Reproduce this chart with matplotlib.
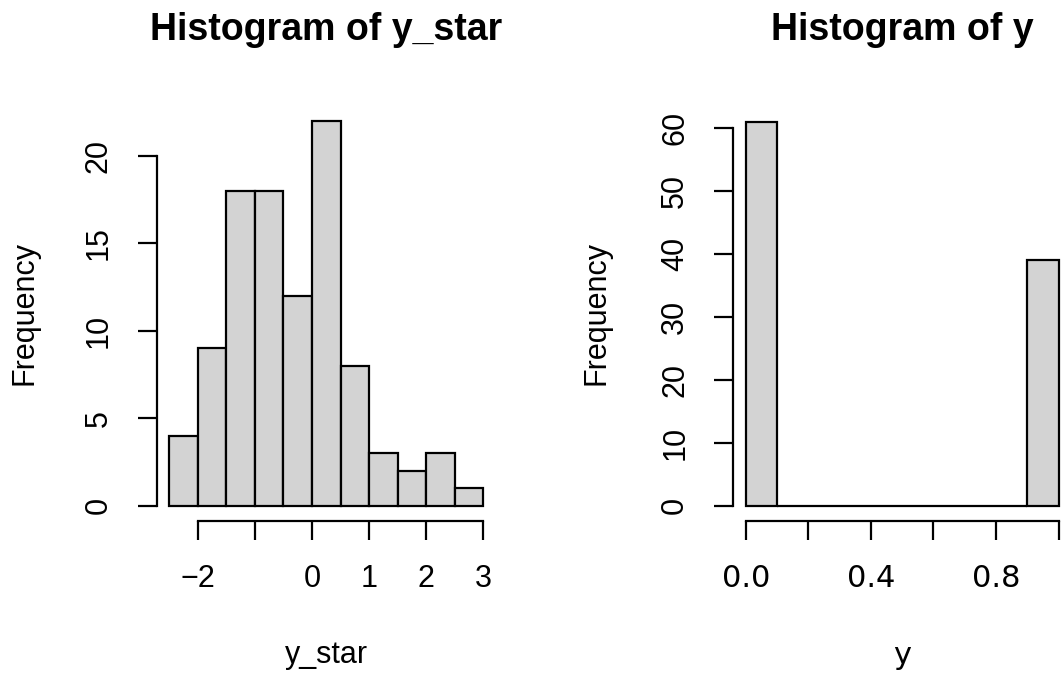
import matplotlib.pyplot as plt
import numpy as np

# left histogram: y_star
star_edges = [-2.5, -2.0, -1.5, -1.0, -0.5, 0.0, 0.5, 1.0, 1.5, 2.0, 2.5, 3.0]
star_counts = [4, 9, 18, 18, 12, 22, 8, 3, 2, 3, 1]
star_xticks = [-2, -1, 0, 1, 2, 3]
star_xlabels = ['\u22122', '', '0', '1', '2', '3']
star_yticks = [0, 5, 10, 15, 20]

# right histogram: y
y_edges = [0.0, 0.1, 0.2, 0.3, 0.4, 0.5, 0.6, 0.7, 0.8, 0.9, 1.0]
y_counts = [61, 0, 0, 0, 0, 0, 0, 0, 0, 39]
y_xticks = [0.0, 0.2, 0.4, 0.6, 0.8, 1.0]
y_xlabels = ['0.0', '', '0.4', '', '0.8', '']
y_yticks = [0, 10, 20, 30, 40, 50, 60]

plt.rcParams['font.family'] = ['Liberation Sans', 'DejaVu Sans']

W, H = 1062, 675
fig = plt.figure(figsize=(W / 100, H / 100), dpi=100)


def px_axes(x0, x1, y0, y1):
    return fig.add_axes([x0 / W, 1 - y1 / H, (x1 - x0) / W, (y1 - y0) / H])


def r_hist(ax, edges, counts, xticks, xlabels, yticks, tick_font):
    edges = np.asarray(edges)
    ax.bar(edges[:-1], counts, width=np.diff(edges), align='edge',
           color='#d3d3d3', edgecolor='black', linewidth=1.6)
    lo, hi = edges[0], edges[-1]
    pad = 0.04 * (hi - lo)
    ax.set_xlim(lo - pad, hi + pad)
    top = max(counts)
    ax.set_ylim(-0.04 * top, 1.04 * top)
    for s in ('top', 'right'):
        ax.spines[s].set_visible(False)
    ax.spines['left'].set_bounds(yticks[0], yticks[-1])
    ax.spines['bottom'].set_bounds(xticks[0], xticks[-1])
    for s in ('left', 'bottom'):
        ax.spines[s].set_linewidth(1.6)
    ax.set_xticks(xticks)
    ax.set_xticklabels(xlabels, fontsize=22, family=tick_font)
    ax.set_yticks(yticks)
    ax.set_yticklabels([str(v) for v in yticks], fontsize=22,
                       rotation=90, va='center')
    ax.tick_params(length=14, width=1.6, direction='out')
    ax.tick_params(axis='x', pad=17)
    ax.tick_params(axis='y', pad=17)
    ax.patch.set_visible(False)


ax1 = px_axes(156.7, 495.9, 105.3, 521.1)
r_hist(ax1, star_edges, star_counts, star_xticks, star_xlabels, star_yticks,
       'Liberation Sans')

ax2 = px_axes(733.2, 1071.2, 106.7, 521.1)
r_hist(ax2, y_edges, y_counts, y_xticks, y_xlabels, y_yticks, 'DejaVu Sans')

# titles and axis labels
fig.text(326 / W, 1 - 30 / H, 'Histogram of y_star', fontsize=27,
         fontweight='bold', ha='center', va='center')
fig.text(902 / W, 1 - 30 / H, 'Histogram of y', fontsize=27,
         fontweight='bold', ha='center', va='center')
fig.text(326 / W, 1 - 655 / H, 'y_star', fontsize=22, ha='center', va='center')
fig.text(902 / W, 1 - 655 / H, 'y', fontsize=22, ha='center', va='center',
         family='DejaVu Sans')
fig.text(25 / W, 1 - 313 / H, 'Frequency', fontsize=22, rotation=90,
         ha='center', va='center')
fig.text(597 / W, 1 - 313 / H, 'Frequency', fontsize=22, rotation=90,
         ha='center', va='center')

fig.savefig('out.png', dpi=100)
